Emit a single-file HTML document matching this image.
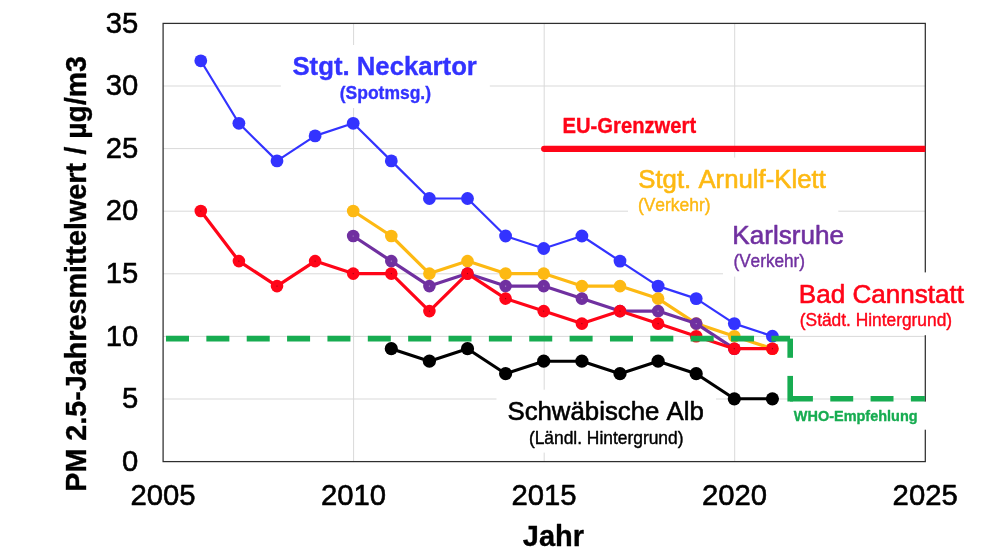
<!DOCTYPE html>
<html lang="de">
<head>
<meta charset="utf-8">
<title>PM 2.5-Jahresmittelwert</title>
<style>
html,body{margin:0;padding:0;background:#ffffff;}
body{width:992px;height:553px;overflow:hidden;}
svg{display:block;}
text{font-family:"Liberation Sans",Arial,Helvetica,sans-serif;font-kerning:none;stroke-width:0.6px;stroke-linejoin:round;}
.b{stroke-width:0.35px;}
.s{stroke-width:0.42px;}
.b{font-weight:bold;}
</style>
</head>
<body>
<svg width="992" height="553" viewBox="0 0 992 553">
<rect x="0" y="0" width="992" height="553" fill="#ffffff"/>

<g stroke="#d9d9d9" stroke-width="1" fill="none">
<line x1="163.1" x2="925.3" y1="399.0" y2="399.0"/>
<line x1="163.1" x2="925.3" y1="336.4" y2="336.4"/>
<line x1="163.1" x2="925.3" y1="273.8" y2="273.8"/>
<line x1="163.1" x2="925.3" y1="211.2" y2="211.2"/>
<line x1="163.1" x2="925.3" y1="148.6" y2="148.6"/>
<line x1="163.1" x2="925.3" y1="86.0" y2="86.0"/>
<line y1="461.55" y2="23.4" x1="353.6" x2="353.6"/>
<line y1="461.55" y2="23.4" x1="544.2" x2="544.2"/>
<line y1="461.55" y2="23.4" x1="734.7" x2="734.7"/>
</g>
<rect x="163.1" y="23.4" width="762.2" height="438.2" fill="none" stroke="#2e2e2e" stroke-width="1.25"/>
<g fill="#ffffff">
<rect x="280.8" y="45" width="209.0" height="63.0"/>
<rect x="628" y="157.6" width="210.3" height="64.4"/>
<rect x="723" y="222" width="127.0" height="54.6"/>
<rect x="790" y="272.4" width="185.0" height="62.8"/>
<rect x="496.5" y="389.7" width="219.5" height="62.9"/>
<rect x="785" y="401.6" width="150.0" height="28.1"/>
<rect x="553" y="118" width="152.0" height="24.0"/>
</g>
<clipPath id="plotclip"><rect x="163.1" y="23.4" width="762.2" height="438.2"/></clipPath>
<line x1="544.2" x2="935.3" y1="148.8" y2="148.8" stroke="#ff0518" stroke-width="6.3" stroke-linecap="round" clip-path="url(#plotclip)"/>
<g fill="#3333ff" stroke="none">
<polyline points="200.8,60.8 238.9,123.3 277.0,160.9 315.1,135.9 353.2,123.3 391.3,160.9 429.4,198.5 467.5,198.5 505.6,236.0 543.7,248.5 581.9,236.0 620.0,261.1 658.1,286.1 696.2,298.6 734.3,323.6 772.4,336.2" fill="none" stroke="#3333ff" stroke-width="2.2" stroke-linejoin="round" stroke-linecap="round"/>
<circle cx="200.8" cy="60.8" r="6.4"/>
<circle cx="238.9" cy="123.3" r="6.4"/>
<circle cx="277.0" cy="160.9" r="6.4"/>
<circle cx="315.1" cy="135.9" r="6.4"/>
<circle cx="353.2" cy="123.3" r="6.4"/>
<circle cx="391.3" cy="160.9" r="6.4"/>
<circle cx="429.4" cy="198.5" r="6.4"/>
<circle cx="467.5" cy="198.5" r="6.4"/>
<circle cx="505.6" cy="236.0" r="6.4"/>
<circle cx="543.7" cy="248.5" r="6.4"/>
<circle cx="581.9" cy="236.0" r="6.4"/>
<circle cx="620.0" cy="261.1" r="6.4"/>
<circle cx="658.1" cy="286.1" r="6.4"/>
<circle cx="696.2" cy="298.6" r="6.4"/>
<circle cx="734.3" cy="323.6" r="6.4"/>
<circle cx="772.4" cy="336.2" r="6.4"/>
</g>
<g fill="#fdb913" stroke="none">
<polyline points="353.2,211.0 391.3,236.0 429.4,273.6 467.5,261.1 505.6,273.6 543.7,273.6 581.9,286.1 620.0,286.1 658.1,298.6 696.2,323.6 734.3,336.2 772.4,348.7" fill="none" stroke="#fdb913" stroke-width="3.2" stroke-linejoin="round" stroke-linecap="round"/>
<circle cx="353.2" cy="211.0" r="6.3"/>
<circle cx="391.3" cy="236.0" r="6.3"/>
<circle cx="429.4" cy="273.6" r="6.3"/>
<circle cx="467.5" cy="261.1" r="6.3"/>
<circle cx="505.6" cy="273.6" r="6.3"/>
<circle cx="543.7" cy="273.6" r="6.3"/>
<circle cx="581.9" cy="286.1" r="6.3"/>
<circle cx="620.0" cy="286.1" r="6.3"/>
<circle cx="658.1" cy="298.6" r="6.3"/>
<circle cx="696.2" cy="323.6" r="6.3"/>
<circle cx="734.3" cy="336.2" r="6.3"/>
<circle cx="772.4" cy="348.7" r="6.3"/>
</g>
<g fill="#7030a0" stroke="none">
<polyline points="353.2,236.0 391.3,261.1 429.4,286.1 467.5,273.6 505.6,286.1 543.7,286.1 581.9,298.6 620.0,311.1 658.1,311.1 696.2,323.6 734.3,348.7" fill="none" stroke="#7030a0" stroke-width="3.2" stroke-linejoin="round" stroke-linecap="round"/>
<circle cx="353.2" cy="236.0" r="6.3"/>
<circle cx="391.3" cy="261.1" r="6.3"/>
<circle cx="429.4" cy="286.1" r="6.3"/>
<circle cx="467.5" cy="273.6" r="6.3"/>
<circle cx="505.6" cy="286.1" r="6.3"/>
<circle cx="543.7" cy="286.1" r="6.3"/>
<circle cx="581.9" cy="298.6" r="6.3"/>
<circle cx="620.0" cy="311.1" r="6.3"/>
<circle cx="658.1" cy="311.1" r="6.3"/>
<circle cx="696.2" cy="323.6" r="6.3"/>
<circle cx="734.3" cy="348.7" r="6.3"/>
<circle cx="353.2" cy="236.0" r="0.6" fill="#b9a0d0"/>
<circle cx="391.3" cy="261.1" r="0.6" fill="#b9a0d0"/>
<circle cx="429.4" cy="286.1" r="0.6" fill="#b9a0d0"/>
<circle cx="467.5" cy="273.6" r="0.6" fill="#b9a0d0"/>
<circle cx="505.6" cy="286.1" r="0.6" fill="#b9a0d0"/>
<circle cx="543.7" cy="286.1" r="0.6" fill="#b9a0d0"/>
<circle cx="581.9" cy="298.6" r="0.6" fill="#b9a0d0"/>
<circle cx="620.0" cy="311.1" r="0.6" fill="#b9a0d0"/>
<circle cx="658.1" cy="311.1" r="0.6" fill="#b9a0d0"/>
<circle cx="696.2" cy="323.6" r="0.6" fill="#b9a0d0"/>
<circle cx="734.3" cy="348.7" r="0.6" fill="#b9a0d0"/>
</g>
<g fill="#ff0518" stroke="none">
<polyline points="200.8,211.0 238.9,261.1 277.0,286.1 315.1,261.1 353.2,273.6 391.3,273.6 429.4,311.1 467.5,273.6 505.6,298.6 543.7,311.1 581.9,323.6 620.0,311.1 658.1,323.6 696.2,336.2 734.3,348.7 772.4,348.7" fill="none" stroke="#ff0518" stroke-width="3.2" stroke-linejoin="round" stroke-linecap="round"/>
<circle cx="200.8" cy="211.0" r="6.3"/>
<circle cx="238.9" cy="261.1" r="6.3"/>
<circle cx="277.0" cy="286.1" r="6.3"/>
<circle cx="315.1" cy="261.1" r="6.3"/>
<circle cx="353.2" cy="273.6" r="6.3"/>
<circle cx="391.3" cy="273.6" r="6.3"/>
<circle cx="429.4" cy="311.1" r="6.3"/>
<circle cx="467.5" cy="273.6" r="6.3"/>
<circle cx="505.6" cy="298.6" r="6.3"/>
<circle cx="543.7" cy="311.1" r="6.3"/>
<circle cx="581.9" cy="323.6" r="6.3"/>
<circle cx="620.0" cy="311.1" r="6.3"/>
<circle cx="658.1" cy="323.6" r="6.3"/>
<circle cx="696.2" cy="336.2" r="6.3"/>
<circle cx="734.3" cy="348.7" r="6.3"/>
<circle cx="772.4" cy="348.7" r="6.3"/>
<circle cx="200.8" cy="211.0" r="0.6" fill="#8f0012"/>
<circle cx="238.9" cy="261.1" r="0.6" fill="#8f0012"/>
<circle cx="277.0" cy="286.1" r="0.6" fill="#8f0012"/>
<circle cx="315.1" cy="261.1" r="0.6" fill="#8f0012"/>
<circle cx="353.2" cy="273.6" r="0.6" fill="#8f0012"/>
<circle cx="391.3" cy="273.6" r="0.6" fill="#8f0012"/>
<circle cx="429.4" cy="311.1" r="0.6" fill="#8f0012"/>
<circle cx="467.5" cy="273.6" r="0.6" fill="#8f0012"/>
<circle cx="505.6" cy="298.6" r="0.6" fill="#8f0012"/>
<circle cx="543.7" cy="311.1" r="0.6" fill="#8f0012"/>
<circle cx="581.9" cy="323.6" r="0.6" fill="#8f0012"/>
<circle cx="620.0" cy="311.1" r="0.6" fill="#8f0012"/>
<circle cx="658.1" cy="323.6" r="0.6" fill="#8f0012"/>
<circle cx="696.2" cy="336.2" r="0.6" fill="#8f0012"/>
<circle cx="734.3" cy="348.7" r="0.6" fill="#8f0012"/>
<circle cx="772.4" cy="348.7" r="0.6" fill="#8f0012"/>
</g>
<g fill="#000000" stroke="none">
<polyline points="391.3,348.7 429.4,361.2 467.5,348.7 505.6,373.7 543.7,361.2 581.9,361.2 620.0,373.7 658.1,361.2 696.2,373.7 734.3,398.8 772.4,398.8" fill="none" stroke="#000000" stroke-width="3.1" stroke-linejoin="round" stroke-linecap="round"/>
<circle cx="391.3" cy="348.7" r="6.6"/>
<circle cx="429.4" cy="361.2" r="6.6"/>
<circle cx="467.5" cy="348.7" r="6.6"/>
<circle cx="505.6" cy="373.7" r="6.6"/>
<circle cx="543.7" cy="361.2" r="6.6"/>
<circle cx="581.9" cy="361.2" r="6.6"/>
<circle cx="620.0" cy="373.7" r="6.6"/>
<circle cx="658.1" cy="361.2" r="6.6"/>
<circle cx="696.2" cy="373.7" r="6.6"/>
<circle cx="734.3" cy="398.8" r="6.6"/>
<circle cx="772.4" cy="398.8" r="6.6"/>
</g>
<g stroke="#17ac51" stroke-width="5.6" fill="none">
<line x1="166" x2="790" y1="338.6" y2="338.6" stroke-dasharray="23 17.36"/>
<line x1="790.2" x2="790.2" y1="338.6" y2="357.8"/>
<line x1="790.2" x2="790.2" y1="375.9" y2="401.5"/>
<line x1="790" x2="924.9" y1="398.7" y2="398.7" stroke-dasharray="22.9 17.4"/>
</g>
<text x="121.90" y="470.80" font-size="30.4" fill="#000" stroke="#000" textLength="16.24" lengthAdjust="spacingAndGlyphs">0</text>
<text x="121.98" y="408.21" font-size="30.4" fill="#000" stroke="#000" textLength="16.24" lengthAdjust="spacingAndGlyphs">5</text>
<text x="105.65" y="345.61" font-size="30.4" fill="#000" stroke="#000" textLength="32.49" lengthAdjust="spacingAndGlyphs">10</text>
<text x="105.74" y="283.02" font-size="30.4" fill="#000" stroke="#000" textLength="32.49" lengthAdjust="spacingAndGlyphs">15</text>
<text x="105.65" y="220.43" font-size="30.4" fill="#000" stroke="#000" textLength="32.49" lengthAdjust="spacingAndGlyphs">20</text>
<text x="105.74" y="157.84" font-size="30.4" fill="#000" stroke="#000" textLength="32.49" lengthAdjust="spacingAndGlyphs">25</text>
<text x="105.65" y="95.24" font-size="30.4" fill="#000" stroke="#000" textLength="32.49" lengthAdjust="spacingAndGlyphs">30</text>
<text x="105.74" y="32.65" font-size="30.4" fill="#000" stroke="#000" textLength="32.49" lengthAdjust="spacingAndGlyphs">35</text>
<text x="130.42" y="505.4" font-size="30.4" fill="#000" stroke="#000" textLength="65.12" lengthAdjust="spacingAndGlyphs">2005</text>
<text x="320.93" y="505.4" font-size="30.4" fill="#000" stroke="#000" textLength="65.12" lengthAdjust="spacingAndGlyphs">2010</text>
<text x="511.52" y="505.4" font-size="30.4" fill="#000" stroke="#000" textLength="65.12" lengthAdjust="spacingAndGlyphs">2015</text>
<text x="702.03" y="505.4" font-size="30.4" fill="#000" stroke="#000" textLength="65.12" lengthAdjust="spacingAndGlyphs">2020</text>
<text x="892.62" y="505.4" font-size="30.4" fill="#000" stroke="#000" textLength="65.12" lengthAdjust="spacingAndGlyphs">2025</text>
<text x="522.86" y="545.6" font-size="29.8" fill="#000" stroke="#000" class="b" textLength="61.28" lengthAdjust="spacingAndGlyphs">Jahr</text>
<text transform="translate(86.4,489.8) rotate(-90)" x="-1.92" y="0" font-size="30.1" fill="#000" stroke="#000" class="b" textLength="328.77" lengthAdjust="spacingAndGlyphs">PM 2.5-Jahresmittelwert</text>
<text transform="translate(86.4,154.3) rotate(-90)" x="-0.28" y="0" font-size="30.1" fill="#000" stroke="#000" class="b" textLength="98.40" lengthAdjust="spacingAndGlyphs">/ µg/m3</text>
<text x="292.46" y="74.6" font-size="25.7" fill="#3333ff" stroke="#3333ff" class="b" textLength="184.43" lengthAdjust="spacingAndGlyphs">Stgt. Neckartor</text>
<text x="339.73" y="98.6" font-size="18.1" fill="#3333ff" stroke="#3333ff" class="b" textLength="91.34" lengthAdjust="spacingAndGlyphs">(Spotmsg.)</text>
<text x="562.55" y="133.0" font-size="21.4" fill="#ff0518" stroke="#ff0518" class="b" textLength="133.60" lengthAdjust="spacingAndGlyphs">EU-Grenzwert</text>
<text x="638.23" y="187.6" font-size="25.7" fill="#fdb913" stroke="#fdb913" textLength="187.66" lengthAdjust="spacingAndGlyphs">Stgt. Arnulf-Klett</text>
<text x="637.92" y="211.0" font-size="18.1" fill="#fdb913" stroke="#fdb913" class="s" textLength="72.66" lengthAdjust="spacingAndGlyphs">(Verkehr)</text>
<text x="732.36" y="244.0" font-size="25.7" fill="#7030a0" stroke="#7030a0" textLength="111.70" lengthAdjust="spacingAndGlyphs">Karlsruhe</text>
<text x="733.43" y="267.2" font-size="18.1" fill="#7030a0" stroke="#7030a0" class="s" textLength="71.63" lengthAdjust="spacingAndGlyphs">(Verkehr)</text>
<text x="798.76" y="302.6" font-size="25.7" fill="#ff0518" stroke="#ff0518" textLength="165.23" lengthAdjust="spacingAndGlyphs">Bad Cannstatt</text>
<text x="799.82" y="325.8" font-size="18.1" fill="#ff0518" stroke="#ff0518" class="s" textLength="152.25" lengthAdjust="spacingAndGlyphs">(Städt. Hintergrund)</text>
<text x="507.43" y="420.2" font-size="25.7" fill="#000" stroke="#000" textLength="196.45" lengthAdjust="spacingAndGlyphs">Schwäbische Alb</text>
<text x="528.92" y="444.1" font-size="18.1" fill="#000" stroke="#000" class="s" textLength="154.56" lengthAdjust="spacingAndGlyphs">(Ländl. Hintergrund)</text>
<text x="793.89" y="420.7" font-size="14.4" fill="#17ac51" stroke="#17ac51" class="b" textLength="123.68" lengthAdjust="spacingAndGlyphs">WHO-Empfehlung</text>
</svg>
</body>
</html>
